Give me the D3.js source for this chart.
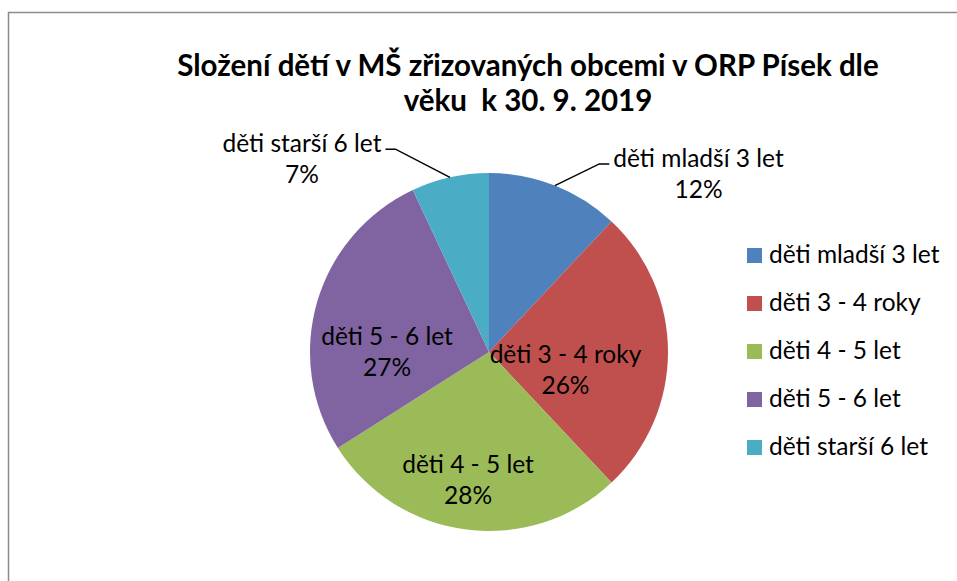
<!DOCTYPE html>
<html>
<head>
<meta charset="utf-8">
<script src="https://cdn.jsdelivr.net/npm/d3@7"></script>
<style>
  html, body { margin: 0; padding: 0; background: #fff; }
  svg { display: block; }
  text { font-family: Lato, "Open Sans", sans-serif; fill: #000; white-space: pre; }
</style>
</head>
<body>
<svg id="chart" width="957" height="581"></svg>
<script>
// ---- data ----
const categories = ["děti mladší 3 let", "děti 3 - 4 roky", "děti 4 - 5 let", "děti 5 - 6 let", "děti starší 6 let"];
const values = [12, 26, 28, 27, 7];
const colors = ["#4F81BD", "#C0504D", "#9BBB59", "#8064A2", "#4BACC6"];
const titleLines = ["Složení dětí v MŠ zřizovaných obcemi v ORP Písek dle", "věku  k 30. 9. 2019"];

// ---- layout (label placement in polar terms: angle in degrees clockwise from top, radius as fraction of pie radius) ----
const labelPolar = [[51.1, 1.504], [109.4, 0.453], [188.7, 0.774], [265, 0.572], [314.5, 1.465]];
const outsideLabel = [true, false, false, false, true];

const cx = 489, cy = 352, R = 179;
const labelSize = 24.5;
const svg = d3.select("#chart");

// border
svg.append("rect").attr("x", 8.5).attr("y", 12.5).attr("width", 980).attr("height", 600)
  .attr("fill", "#fff").attr("stroke", "#8c8c8c").attr("stroke-width", 1.5);

// title
const title = svg.append("text").attr("text-anchor", "middle")
  .style("font-weight", "bold").style("font-size", "29.5px");
titleLines.forEach((t, i) => {
  title.append("tspan").attr("x", 528).attr("y", 76 + i * 35).text(t);
});

const pie = d3.pie().value(d => d).sort(null);
const arcs = pie(values);
const arc = d3.arc().innerRadius(0).outerRadius(R);
const color = d3.scaleOrdinal().domain(categories).range(colors);

const g = svg.append("g").attr("transform", `translate(${cx},${cy})`);
g.selectAll("path.slice").data(arcs).enter().append("path")
  .attr("class", "slice")
  .attr("d", arc)
  .attr("fill", (d, i) => color(categories[i]));

const total = d3.sum(values);
const pct = v => Math.round(v / total * 100) + "%";
const polar = (deg, r) => {
  const a = deg * Math.PI / 180;
  return [r * Math.sin(a), -r * Math.cos(a)];
};

// labels
arcs.forEach((d, i) => {
  const [lx, ly] = polar(labelPolar[i][0], labelPolar[i][1] * R);
  const t = g.append("text").attr("text-anchor", "middle").style("font-size", labelSize + "px");
  t.append("tspan").attr("x", lx).attr("y", ly - 16).text(categories[i]);
  t.append("tspan").attr("x", lx).attr("y", ly + 15).text(pct(values[i]));
  if (outsideLabel[i]) {
    const mid = (d.startAngle + d.endAngle) / 2 * 180 / Math.PI;
    const [ex, ey] = polar(mid, R);
    const firstW = t.select("tspan").node().getComputedTextLength();
    const right = lx > 0;
    const hx = right ? lx - firstW / 2 - 4 : lx + firstW / 2 + 4;
    const hy = ly - 19;
    const kx = right ? hx - 10 : hx + 10;
    g.append("polyline")
      .attr("points", [[ex, ey], [kx, hy], [hx, hy]].map(p => p.join(",")).join(" "))
      .attr("fill", "none").attr("stroke", "#000").attr("stroke-width", 1.5);
  }
});

// legend
const leg = svg.append("g").attr("transform", "translate(747,248)");
categories.forEach((c, i) => {
  const row = leg.append("g").attr("transform", `translate(0,${i * 48})`);
  row.append("rect").attr("width", 15).attr("height", 15).attr("fill", color(c));
  row.append("text").attr("x", 22).attr("y", 15).style("font-size", labelSize + "px").text(c);
});
</script>
</body>
</html>
